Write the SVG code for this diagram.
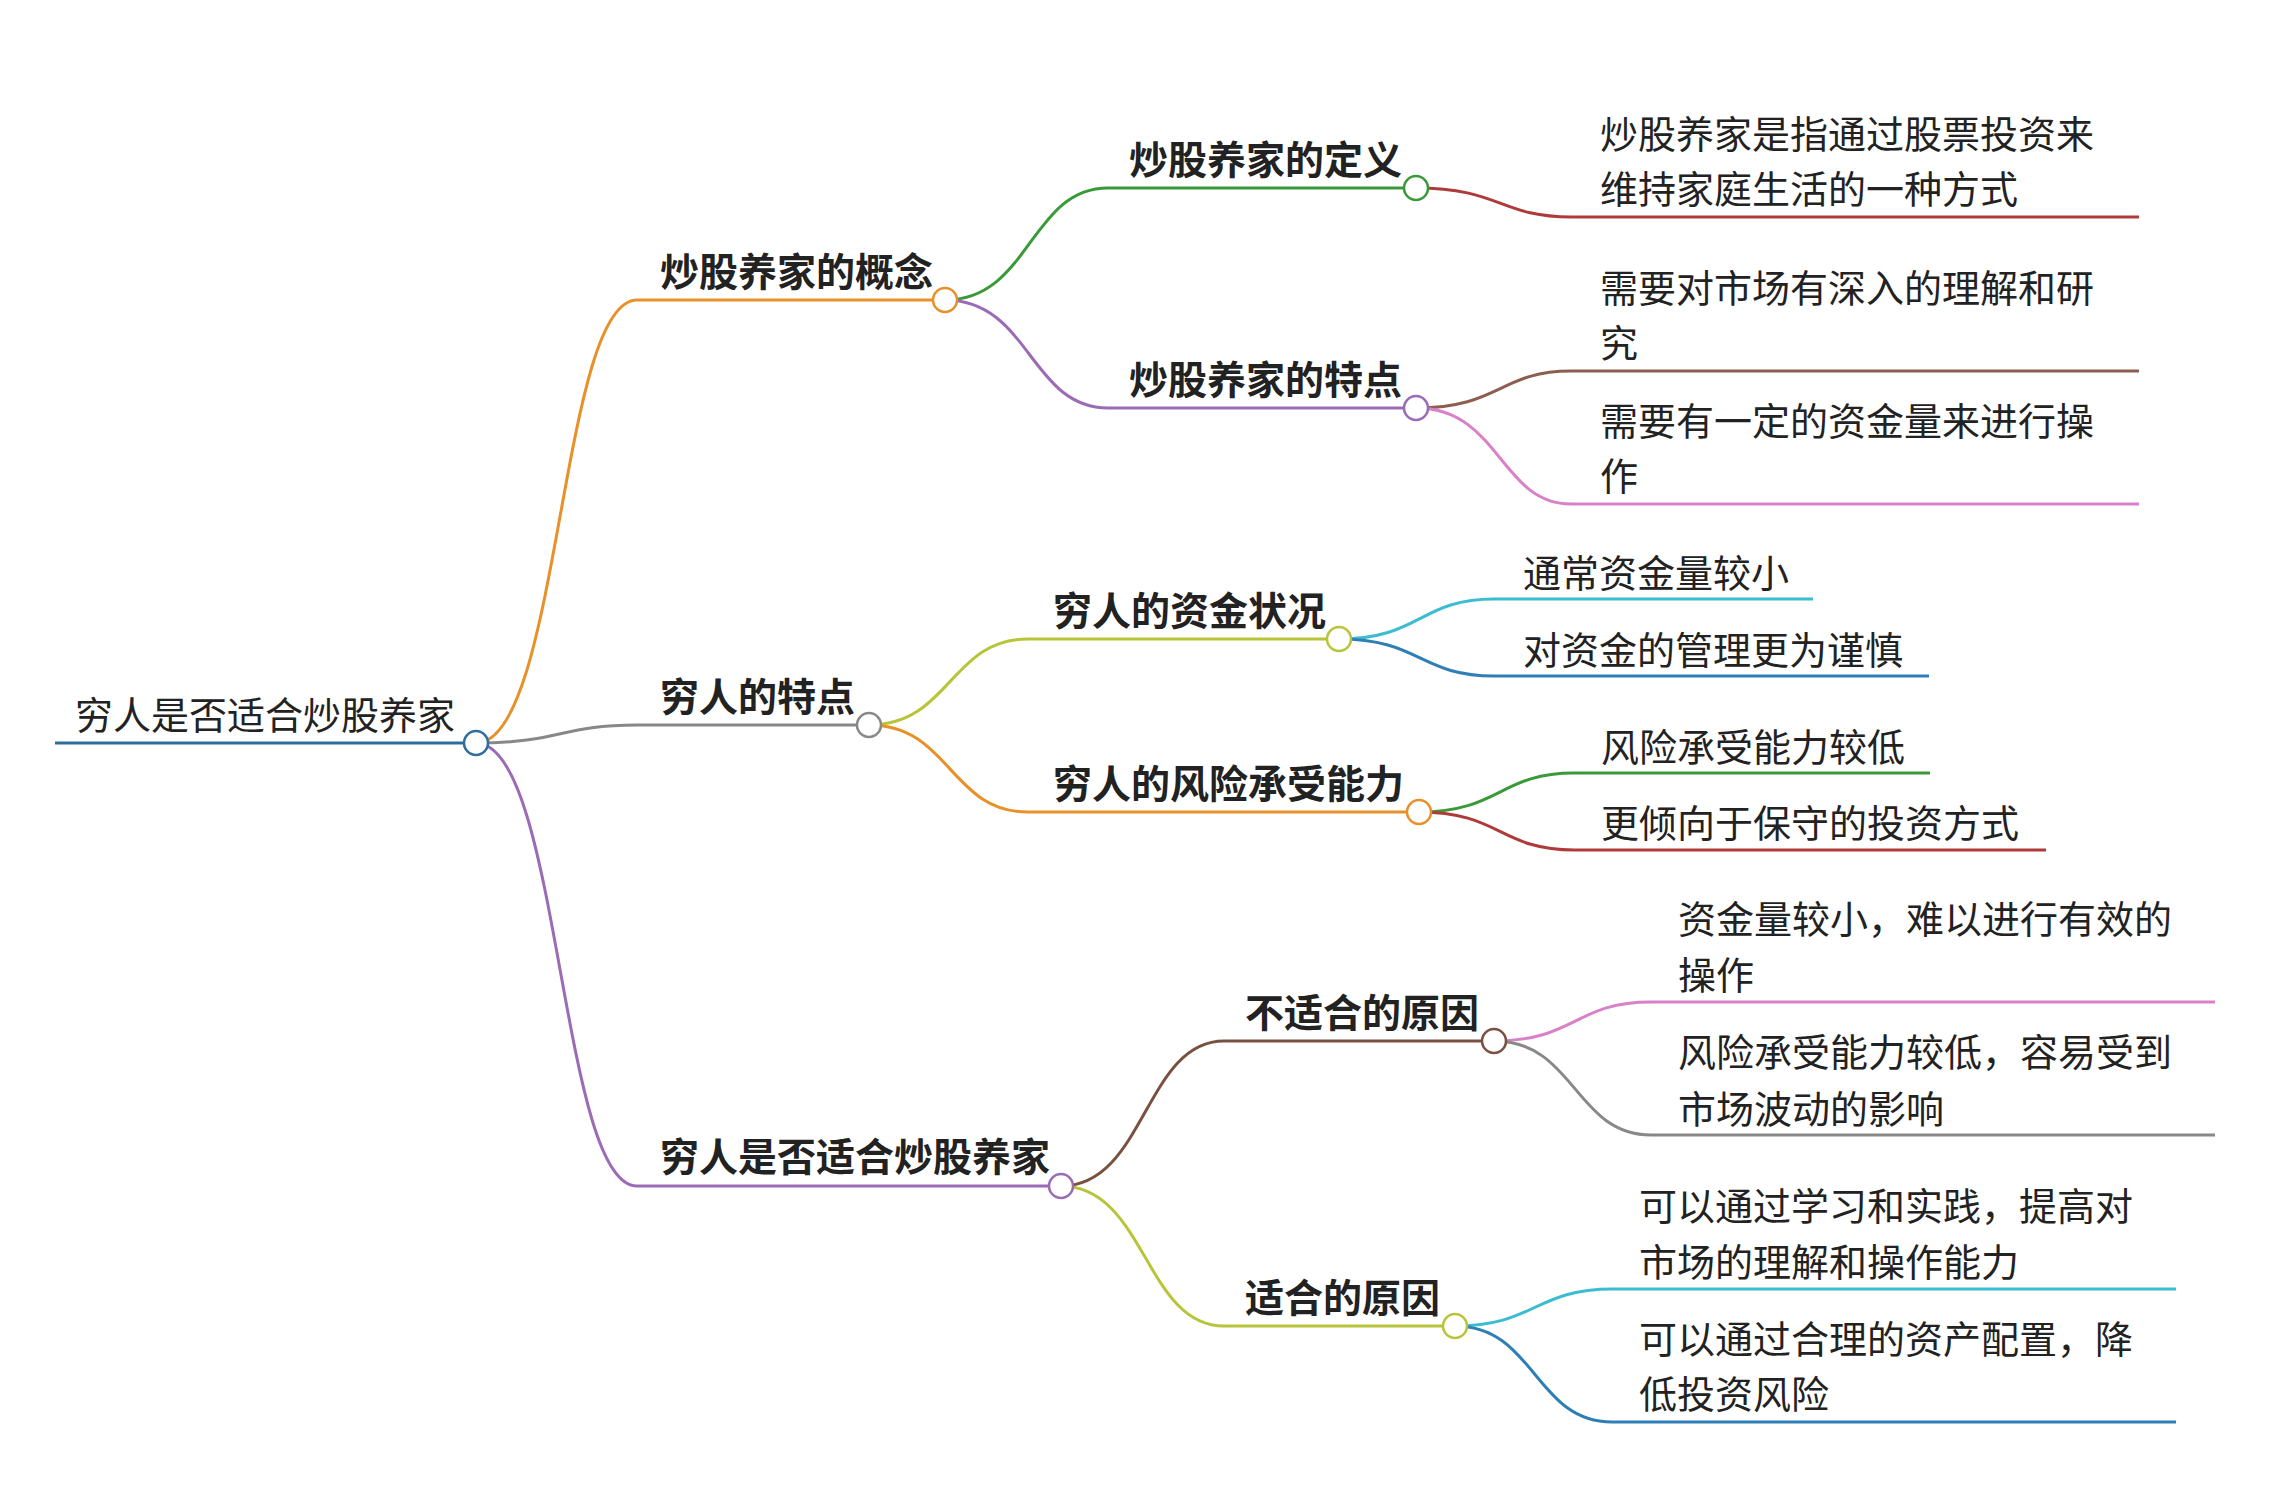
<svg xmlns="http://www.w3.org/2000/svg" width="2270" height="1502" viewBox="0 0 2270 1502">
<style>
text{font-family:"Noto Sans CJK SC","Liberation Sans",sans-serif;fill:#222;font-size:38px}
.b{font-weight:bold;font-size:39px}
path{fill:none;stroke-width:3}
circle{fill:#fff;stroke-width:2.5}
</style>
<rect width="2270" height="1502" fill="#fff"/>
<g id="connectors">
<path d="M55 743H476" stroke="#2e6e9e" stroke-width="4.5"/>
<path d="M476 743C560 743 560 300 637 300H945" stroke="#e8902a"/>
<path d="M476 743C560 743 560 725 637 725H869" stroke="#888"/>
<path d="M476 743C560 743 560 1186 637 1186H1061" stroke="#9b6bb5"/>
<path d="M945 300C1030 300 1030 188 1108 188H1416" stroke="#3a9a3a"/>
<path d="M945 300C1030 300 1030 408 1108 408H1416" stroke="#9b6bb5"/>
<path d="M869 725C950 725 950 639 1028 639H1339" stroke="#b8c43a"/>
<path d="M869 725C950 725 950 812 1028 812H1419" stroke="#e8902a"/>
<path d="M1061 1186C1145 1186 1145 1041 1224 1041H1494" stroke="#7a5040"/>
<path d="M1061 1186C1145 1186 1145 1326 1224 1326H1455" stroke="#b8c43a"/>
<path d="M1416 188C1500 188 1500 217 1571 217H2139" stroke="#b03a3a"/>
<path d="M1416 408C1500 408 1500 371 1571 371H2139" stroke="#8b5e50"/>
<path d="M1416 408C1500 408 1500 504 1571 504H2139" stroke="#d880c8"/>
<path d="M1339 639C1420 639 1420 599 1494 599H1813" stroke="#3bbcd0"/>
<path d="M1339 639C1420 639 1420 676 1494 676H1929" stroke="#2e7fb5"/>
<path d="M1419 812C1500 812 1500 773 1574 773H1930" stroke="#3a9a3a"/>
<path d="M1419 812C1500 812 1500 850 1574 850H2046" stroke="#b03a3a"/>
<path d="M1494 1041C1575 1041 1575 1002 1651 1002H2215" stroke="#d880c8"/>
<path d="M1494 1041C1575 1041 1575 1135 1651 1135H2215" stroke="#888"/>
<path d="M1455 1326C1535 1326 1535 1289 1612 1289H2176" stroke="#3bbcd0"/>
<path d="M1455 1326C1535 1326 1535 1422 1612 1422H2176" stroke="#2e7fb5"/>
</g>
<g id="root"><text x="75" y="729">穷人是否适合炒股养家</text><circle cx="476" cy="743" r="12" stroke="#2e6e9e"/></g>
<g id="n1"><text class="b" x="660" y="286">炒股养家的概念</text><circle cx="945" cy="300" r="12" stroke="#e8902a"/></g>
<g id="n2"><text class="b" x="660" y="711">穷人的特点</text><circle cx="869" cy="725" r="12" stroke="#888"/></g>
<g id="n3"><text class="b" x="660" y="1171">穷人是否适合炒股养家</text><circle cx="1061" cy="1186" r="12" stroke="#9b6bb5"/></g>
<g id="n11"><text class="b" x="1129" y="174">炒股养家的定义</text><circle cx="1416" cy="188" r="12" stroke="#3a9a3a"/></g>
<g id="n12"><text class="b" x="1129" y="394">炒股养家的特点</text><circle cx="1416" cy="408" r="12" stroke="#9b6bb5"/></g>
<g id="n21"><text class="b" x="1053" y="625">穷人的资金状况</text><circle cx="1339" cy="639" r="12" stroke="#b8c43a"/></g>
<g id="n22"><text class="b" x="1053" y="798">穷人的风险承受能力</text><circle cx="1419" cy="812" r="12" stroke="#e8902a"/></g>
<g id="n31"><text class="b" x="1245" y="1027">不适合的原因</text><circle cx="1494" cy="1041" r="12" stroke="#7a5040"/></g>
<g id="n32"><text class="b" x="1245" y="1312">适合的原因</text><circle cx="1455" cy="1326" r="12" stroke="#b8c43a"/></g>
<g id="l111"><text x="1600" y="148">炒股养家是指通过股票投资来</text><text x="1600" y="203">维持家庭生活的一种方式</text></g>
<g id="l121"><text x="1600" y="302">需要对市场有深入的理解和研</text><text x="1600" y="357">究</text></g>
<g id="l122"><text x="1600" y="435">需要有一定的资金量来进行操</text><text x="1600" y="490">作</text></g>
<g id="l211"><text x="1523" y="587">通常资金量较小</text></g>
<g id="l212"><text x="1523" y="664">对资金的管理更为谨慎</text></g>
<g id="l221"><text x="1601" y="761">风险承受能力较低</text></g>
<g id="l222"><text x="1601" y="837">更倾向于保守的投资方式</text></g>
<g id="l311"><text x="1678" y="933">资金量较小，难以进行有效的</text><text x="1678" y="989">操作</text></g>
<g id="l312"><text x="1678" y="1066">风险承受能力较低，容易受到</text><text x="1678" y="1123">市场波动的影响</text></g>
<g id="l321"><text x="1639" y="1220">可以通过学习和实践，提高对</text><text x="1639" y="1276">市场的理解和操作能力</text></g>
<g id="l322"><text x="1639" y="1353">可以通过合理的资产配置，降</text><text x="1639" y="1408">低投资风险</text></g>
</svg>
